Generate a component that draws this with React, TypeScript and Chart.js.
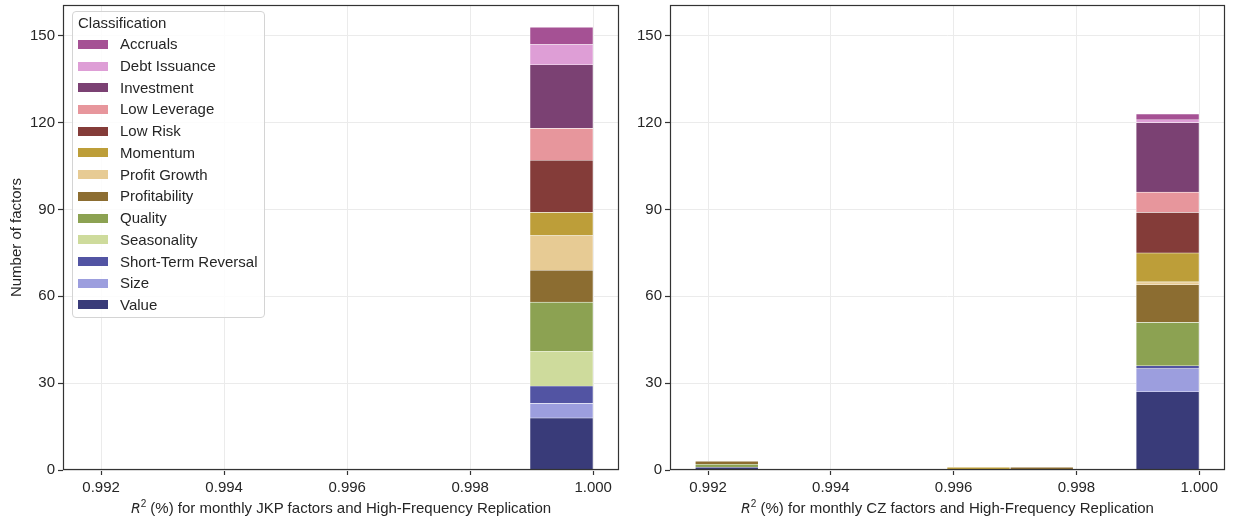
import React, { useEffect, useRef } from 'react';
import { Chart, registerables } from 'chart.js';

Chart.register(...registerables);

// ---------- data ----------
const classes = [
  'Accruals', 'Debt Issuance', 'Investment', 'Low Leverage', 'Low Risk', 'Momentum',
  'Profit Growth', 'Profitability', 'Quality', 'Seasonality', 'Short-Term Reversal', 'Size', 'Value',
];
const classColors = [
  '#a55194', '#de9ed6', '#7b4173', '#e7969c', '#843c39', '#bd9e39',
  '#e7cb94', '#8c6d31', '#8ca252', '#cedb9c', '#5254a3', '#9c9ede', '#393b79',
];

// histogram bin edges (R^2)
const binEdges = [0.99179, 0.99282, 0.99384, 0.99487, 0.99589, 0.99692, 0.99795, 0.99897, 1.0];

// counts per class (in `classes` order) for each bin
const noFactors = [0, 0, 0, 0, 0, 0, 0, 0, 0, 0, 0, 0, 0];
const jkpBin8 = [6, 7, 22, 11, 18, 8, 12, 11, 17, 12, 6, 5, 18];
const jkpBins = [noFactors, noFactors, noFactors, noFactors, noFactors, noFactors, noFactors, jkpBin8];

const czBin1 = [0, 0, 0, 0, 0, 0, 0, 1, 1, 0, 0, 0, 1];
const czBin5 = [0, 0, 0, 0, 0, 1, 0, 0, 0, 0, 0, 0, 0];
const czBin6 = [0, 0, 0, 0, 0, 0, 0, 1, 0, 0, 0, 0, 0];
const czBin8 = [2, 1, 24, 7, 14, 10, 1, 13, 15, 0, 1, 8, 27];
const czBins = [czBin1, noFactors, noFactors, noFactors, czBin5, czBin6, noFactors, czBin8];

const xTicks = [0.992, 0.994, 0.996, 0.998, 1.0];
const yTicks = [0, 30, 60, 90, 120, 150];
const xMin = 0.99138;
const xMax = 1.00042;
const yMax = 160.65;

// ---------- styling ----------
const FONT = '"Liberation Sans", Arial, Helvetica, sans-serif';
const TEXT = '#262626';
const SPINE = '#333333';
const GRID = '#ebebeb';

const frame = {
  id: 'frame',
  afterDatasetsDraw(chart: any) {
    const { ctx, chartArea: a } = chart;
    ctx.save();
    ctx.strokeStyle = SPINE;
    ctx.lineWidth = 1.2;
    ctx.strokeRect(Math.round(a.left) + 0.5, Math.round(a.top) + 0.5, Math.round(a.width) - 1, Math.round(a.height) - 1);
    ctx.restore();
  },
};

function buildConfig(bins: number[][], yTitle: string | null, yAxisWidth: number, padRight: number): any {
  const centers = binEdges.slice(0, -1).map((e, i) => (e + binEdges[i + 1]) / 2);
  const datasets = classes
    .map((name, k) => ({
      label: name,
      data: centers.map((c, b) => ({ x: c, y: bins[b][k] > 0 ? bins[b][k] : null })),
      backgroundColor: classColors[k],
      borderColor: 'rgba(255,255,255,0.85)',
      borderWidth: 0.6,
      barPercentage: 1,
      categoryPercentage: 1,
    }))
    .reverse();

  return {
    type: 'bar',
    data: { datasets },
    plugins: [frame],
    options: {
      animation: false,
      responsive: false,
      devicePixelRatio: 1,
      layout: { padding: { top: 5, right: padRight, bottom: 0, left: 0 } },
      plugins: { legend: { display: false }, tooltip: { enabled: false }, title: { display: false } },
      scales: {
        x: {
          type: 'linear',
          min: xMin,
          max: xMax,
          offset: false,
          stacked: true,
          afterBuildTicks: (s: any) => { s.ticks = xTicks.map((v) => ({ value: v })); },
          afterFit: (s: any) => { s.height = 48; s.paddingLeft = 0; s.paddingRight = 0; },
          ticks: {
            font: { family: FONT, size: 15 },
            color: TEXT,
            padding: 4,
            maxRotation: 0,
            callback: (v: any) => Number(v).toFixed(3),
          },
          grid: { offset: false, color: GRID, lineWidth: 1, tickColor: SPINE, tickLength: 5, tickWidth: 1.2 },
          border: { display: false },
        },
        y: {
          type: 'linear',
          min: 0,
          max: yMax,
          stacked: true,
          afterBuildTicks: (s: any) => { s.ticks = yTicks.map((v) => ({ value: v })); },
          afterFit: (s: any) => { s.width = yAxisWidth; s.paddingTop = 0; s.paddingBottom = 0; },
          ticks: { font: { family: FONT, size: 15 }, color: TEXT, padding: 3 },
          grid: { color: GRID, lineWidth: 1, tickColor: SPINE, tickLength: 5, tickWidth: 1.2 },
          border: { display: false },
          title: yTitle
            ? { display: true, text: yTitle, color: TEXT, font: { family: FONT, size: 15 }, padding: { top: 8, bottom: 0 } }
            : { display: false },
        },
      },
    },
  };
}

function Panel(props: { bins: number[][]; yTitle: string | null; left: number; width: number; yAxisWidth: number; padRight: number }) {
  const ref = useRef<HTMLCanvasElement>(null);
  useEffect(() => {
    if (!ref.current) return;
    const chart = new Chart(ref.current, buildConfig(props.bins, props.yTitle, props.yAxisWidth, props.padRight));
    return () => chart.destroy();
  }, []);
  return (
    <canvas
      ref={ref}
      width={props.width}
      height={518}
      style={{ position: 'absolute', left: props.left, top: 0, width: props.width, height: 518 }}
    />
  );
}

function XTitle(props: { center: number; label: string }) {
  return (
    <div
      style={{
        position: 'absolute', left: props.center - 300, width: 600, top: 498, height: 20,
        textAlign: 'center', font: `15px ${FONT}`, color: TEXT, lineHeight: '20px', whiteSpace: 'nowrap',
      }}
    >
      <span style={{ fontStyle: 'italic', fontFamily: '"DejaVu Sans", sans-serif', fontSize: 14 }}>R</span>
      <sup style={{ fontSize: 10, lineHeight: 0, verticalAlign: 'super' }}>2</sup>
      {' (%) for monthly ' + props.label + ' factors and High-Frequency Replication'}
    </div>
  );
}

function Legend() {
  const rowH = 21.72;
  return (
    <div>
      <div
        style={{
          position: 'absolute', left: 72, top: 11, width: 193, height: 307, boxSizing: 'border-box',
          border: '1px solid #d4d4d4', borderRadius: 4, background: 'rgba(255,255,255,0.85)',
        }}
      />
      <div style={{ position: 'absolute', left: 78, top: 23.3 - 9, height: 18, lineHeight: '18px', font: `15px ${FONT}`, color: TEXT, whiteSpace: 'nowrap' }}>
        Classification
      </div>
      {classes.map((c, i) => {
        const cy = 44.3 + i * rowH;
        return (
          <React.Fragment key={c}>
            <div style={{ position: 'absolute', left: 78, top: cy - 4.5, width: 30, height: 9, background: classColors[i] }} />
            <div style={{ position: 'absolute', left: 120, top: cy - 9, height: 18, lineHeight: '18px', font: `15px ${FONT}`, color: TEXT, whiteSpace: 'nowrap' }}>
              {c}
            </div>
          </React.Fragment>
        );
      })}
    </div>
  );
}

export default function App() {
  return (
    <div style={{ position: 'fixed', left: 0, top: 0, width: 1233, height: 518, background: '#ffffff', overflow: 'hidden' }}>
      <Panel bins={jkpBins} yTitle="Number of factors" left={0} width={626} yAxisWidth={63} padRight={7} />
      <Panel bins={czBins} yTitle={null} left={626} width={607} yAxisWidth={44} padRight={8} />
      <Legend />
      <XTitle center={341} label="JKP" />
      <XTitle center={947.5} label="CZ" />
    </div>
  );
}
